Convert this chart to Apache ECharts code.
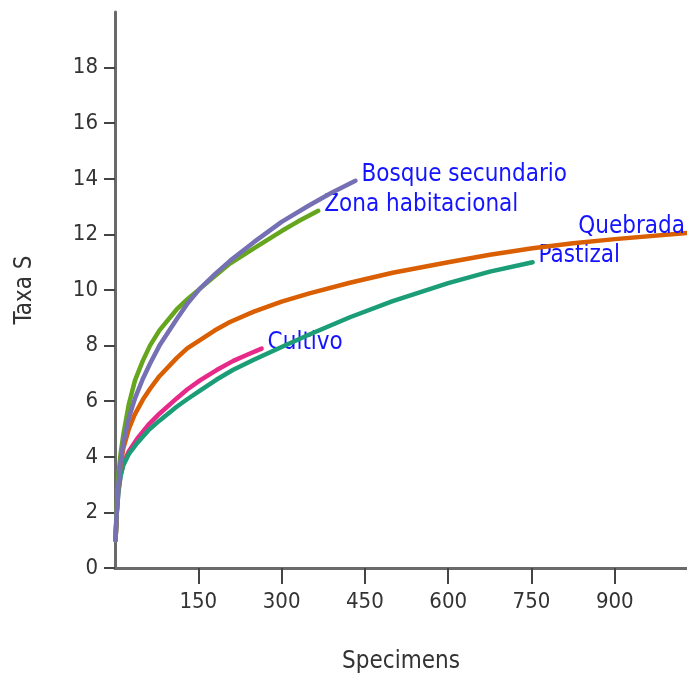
<!DOCTYPE html>
<html>
<head>
<meta charset="utf-8">
<script src="https://cdn.jsdelivr.net/npm/echarts@6/dist/echarts.min.js"></script>
<style>html,body{margin:0;padding:0;background:#fff}#c{width:687px;height:673px}</style>
</head>
<body>
<div id="c"></div>
<script>
const seriesNames = ['Bosque secundario', 'Zona habitacional', 'Quebrada', 'Pastizal', 'Cultivo'];
const seriesColors = ['#7570b3', '#66a61e', '#d95f02', '#1b9e77', '#e7298a'];

const bosqueX = [1, 3, 6, 10, 15, 25, 36, 50, 63, 80, 111, 130, 153, 180, 207, 250, 300, 350, 390, 433];
const bosqueY = [1, 2.0, 3.0, 3.8, 4.5, 5.4, 6.1, 6.8, 7.35, 8.0, 8.95, 9.5, 10.05, 10.57, 11.05, 11.72, 12.45, 13.05, 13.5, 13.93];

const zonaX = [1, 3, 6, 10, 15, 25, 36, 50, 63, 80, 111, 130, 153, 180, 207, 250, 300, 330, 366];
const zonaY = [1, 2.2, 3.3, 4.1, 4.8, 5.9, 6.75, 7.45, 8.0, 8.55, 9.3, 9.66, 10.05, 10.5, 10.95, 11.5, 12.12, 12.47, 12.85];

const quebradaX = [1, 3, 6, 10, 15, 25, 35, 50, 65, 80, 111, 130, 153, 180, 207, 250, 300, 350, 423, 500, 600, 675, 752, 825, 900, 1030];
const quebradaY = [1, 2.0, 3.0, 3.7, 4.3, 5.0, 5.5, 6.05, 6.5, 6.9, 7.55, 7.9, 8.2, 8.55, 8.85, 9.22, 9.58, 9.88, 10.26, 10.62, 11.0, 11.27, 11.5, 11.68, 11.83, 12.05];

const pastizalX = [1, 3, 6, 10, 15, 25, 40, 60, 80, 111, 130, 153, 183, 213, 250, 300, 350, 423, 500, 600, 675, 752];
const pastizalY = [1, 1.9, 2.7, 3.3, 3.7, 4.1, 4.5, 4.95, 5.3, 5.8, 6.07, 6.38, 6.78, 7.13, 7.49, 7.95, 8.4, 9.02, 9.6, 10.25, 10.66, 11.0];

const cultivoX = [1, 3, 6, 10, 15, 25, 40, 60, 80, 111, 130, 153, 183, 213, 240, 264];
const cultivoY = [1, 1.95, 2.75, 3.35, 3.75, 4.2, 4.65, 5.15, 5.55, 6.1, 6.42, 6.75, 7.12, 7.45, 7.69, 7.89];

const xTicks = [150, 300, 450, 600, 750, 900];
const yTicks = [0, 2, 4, 6, 8, 10, 12, 14, 16, 18];

const seriesXs = [bosqueX, zonaX, quebradaX, pastizalX, cultivoX];
const seriesYs = [bosqueY, zonaY, quebradaY, pastizalY, cultivoY];

const FONT = '"DejaVu Sans Condensed", "DejaVu Sans", sans-serif';
const labelBlue = '#1414ff';

const chart = echarts.init(document.getElementById('c'), null, {renderer: 'canvas'});

const series = seriesNames.map((name, i) => ({
  name: name,
  type: 'line',
  data: seriesXs[i].map((x, j) => [x, seriesYs[i][j]]),
  smooth: false,
  showSymbol: false,
  symbol: 'none',
  lineStyle: {color: seriesColors[i], width: 4.5, join: 'round', cap: 'round'},
  itemStyle: {color: seriesColors[i]},
  z: 10 - i,
  endLabel: {
    show: true,
    formatter: name,
    color: labelBlue,
    fontFamily: FONT,
    fontSize: 24,
    align: name === 'Quebrada' ? 'right' : 'left',
    offset: name === 'Quebrada' ? [-10, -6] : [-2, -6]
  }
}));

chart.setOption({
  animation: false,
  backgroundColor: '#ffffff',
  grid: {left: 115, right: 0, top: 12, bottom: 105, containLabel: false, outerBoundsMode: 'none'},
  xAxis: {
    type: 'value',
    min: 0,
    max: 1030,
    name: 'Specimens',
    nameLocation: 'middle',
    nameGap: 82,
    nameTextStyle: {color: '#333', fontSize: 24, fontFamily: FONT},
    splitLine: {show: false},
    axisLine: {show: true, onZero: false, lineStyle: {color: '#6a6a6a', width: 3}},
    axisTick: {show: true, length: 16, customValues: xTicks, lineStyle: {color: '#444', width: 2}},
    axisLabel: {customValues: xTicks, color: '#333', fontSize: 22, fontFamily: FONT, margin: 23}
  },
  yAxis: {
    type: 'value',
    min: 0,
    max: 20,
    name: 'Taxa S',
    nameLocation: 'middle',
    nameRotate: 90,
    nameGap: 78,
    nameTextStyle: {color: '#333', fontSize: 24, fontFamily: FONT},
    splitLine: {show: false},
    axisLine: {show: true, onZero: false, lineStyle: {color: '#6a6a6a', width: 3}},
    axisTick: {show: true, length: 11, customValues: yTicks, lineStyle: {color: '#444', width: 2}},
    axisLabel: {customValues: yTicks, color: '#333', fontSize: 22, fontFamily: FONT, margin: 17}
  },
  series: series
});
</script>
</body>
</html>
